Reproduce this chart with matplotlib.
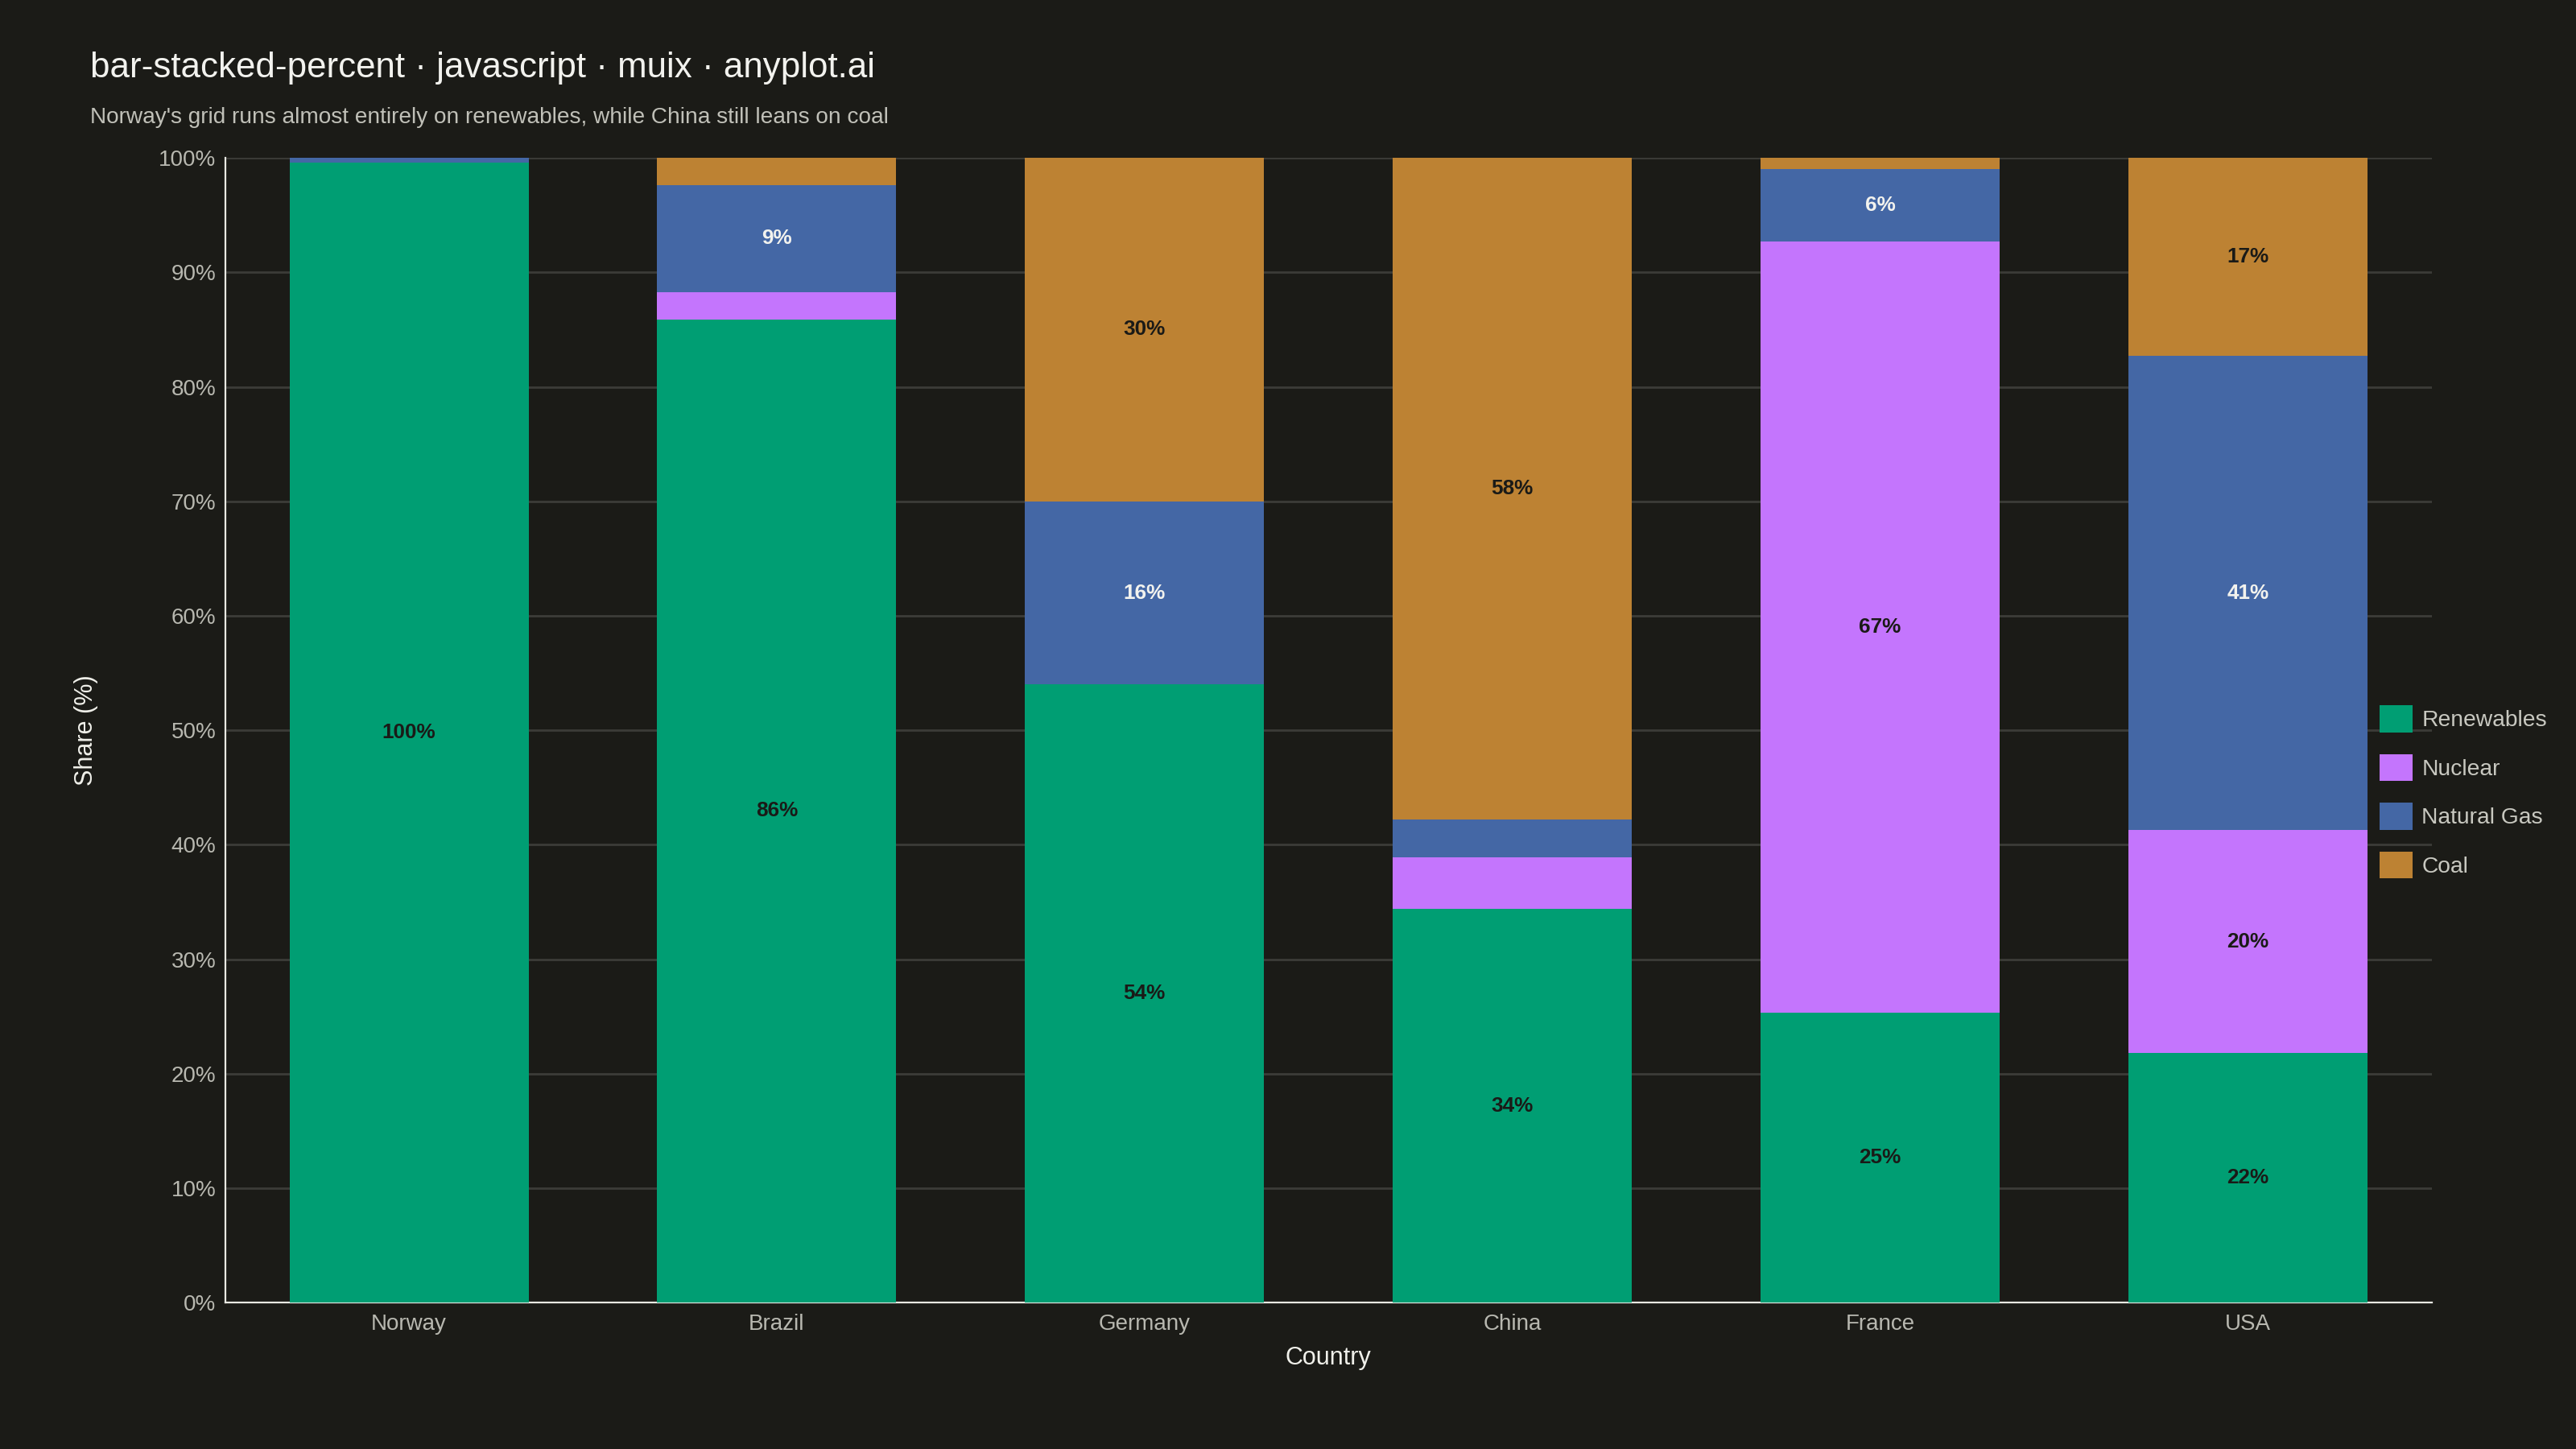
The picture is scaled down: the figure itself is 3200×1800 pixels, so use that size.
import numpy as np
import matplotlib.pyplot as plt
from matplotlib.patches import Patch

plt.rcParams['font.family'] = ['Liberation Sans', 'DejaVu Sans']

countries = ["Norway", "Brazil", "Germany", "China", "France", "USA"]
sources = ["Renewables", "Nuclear", "Natural Gas", "Coal"]
renewables = [99.6, 85.9, 54.0, 34.4, 25.3, 21.8]
nuclear = [0.0, 2.4, 0.0, 4.5, 67.4, 19.5]
natural_gas = [0.4, 9.3, 16.0, 3.3, 6.3, 41.4]
coal = [0.0, 2.4, 30.0, 57.8, 1.0, 17.3]

colors = ["#009E73", "#C475FD", "#4467A5", "#BD8233"]
label_colors = ["#1a1a17", "#1a1a17", "#f2f2ee", "#1a1a17"]
bg = "#1b1b17"

series = [renewables, nuclear, natural_gas, coal]
x = np.arange(len(countries))

fig = plt.figure(figsize=(16, 9), dpi=200, facecolor=bg)
ax = fig.add_axes([0.0874, 0.101, 0.8566, 0.790])
ax.set_facecolor(bg)

bottom = np.zeros(len(countries))
for vals, col, lc in zip(series, colors, label_colors):
    vals = np.array(vals)
    ax.bar(x, vals, bottom=bottom, width=0.65, color=col, zorder=3)
    for xi, v, b in zip(x, vals, bottom):
        if v >= 5:
            ax.text(xi, b + v / 2, f"{v:.0f}%", ha="center", va="center",
                    fontsize=9.4, fontweight="bold", color=lc, zorder=4)
    bottom += vals

ax.set_xlim(-0.5, len(countries) - 0.5)
ax.set_ylim(0, 100)
ax.set_yticks(np.arange(0, 101, 10))
ax.set_yticklabels([f"{t}%" for t in range(0, 101, 10)])
ax.set_xticks(x)
ax.set_xticklabels(countries)
ax.tick_params(axis="both", length=0, colors="#b8b8b0", labelsize=10)
ax.tick_params(axis="y", pad=4)
ax.tick_params(axis="x", pad=5)
ax.grid(axis="y", color="#3c3c38", linewidth=1, zorder=0)

for s in ["top", "right"]:
    ax.spines[s].set_visible(False)
ax.spines["left"].set_color("#e8e8e2")
ax.spines["bottom"].set_color("#e8e8e2")
ax.spines["left"].set_linewidth(0.8)
ax.spines["bottom"].set_linewidth(0.8)

ax.set_xlabel("Country", color="#f0f0ea", fontsize=11, labelpad=5)
ax.set_ylabel("Share (%)", color="#f0f0ea", fontsize=11, labelpad=27)

fig.text(0.035, 0.953, "bar-stacked-percent · javascript · muix · anyplot.ai",
         color="#f2f2ee", fontsize=15.8, va="center")
fig.text(0.035, 0.919, "Norway's grid runs almost entirely on renewables, while China still leans on coal",
         color="#c0c0b8", fontsize=10.1, va="center")

handles = [Patch(facecolor=c, label=s) for c, s in zip(colors, sources)]
leg = fig.legend(handles=handles, loc="center left", bbox_to_anchor=(0.922, 0.4535),
                 frameon=False, fontsize=10.2, labelcolor="#c8c8c0",
                 handlelength=1.45, handleheight=1.45, handletextpad=0.4,
                 labelspacing=0.95, borderpad=0.2, borderaxespad=0)

fig.savefig("out.png", facecolor=bg)
